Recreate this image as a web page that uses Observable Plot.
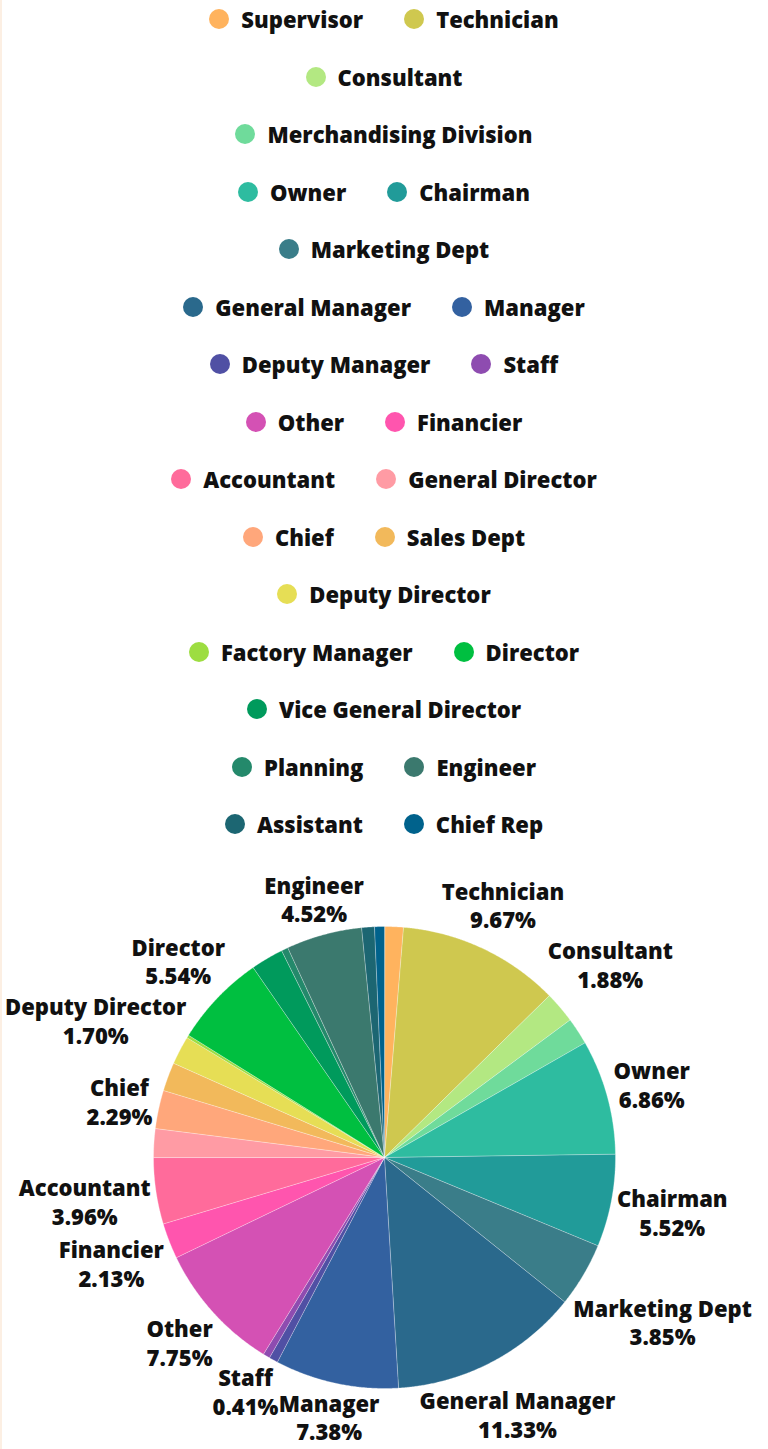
<!DOCTYPE html>
<html>
<head>
<meta charset="utf-8">
<script src="https://cdn.jsdelivr.net/npm/d3@7"></script>
<script src="https://cdn.jsdelivr.net/npm/@observablehq/plot@0.6"></script>
<style>
  html, body { margin: 0; padding: 0; background: #ffffff; }
  body { width: 768px; height: 1449px; overflow: hidden; position: relative; font-family: "Open Sans", sans-serif; }
  .edge { position: absolute; left: 0; top: 0; width: 2px; height: 1449px; background: #fcefe3; }
  #legend { position: absolute; left: 0; top: 0; width: 768px; height: 850px; }
  #legend .rows { position: absolute; left: 168px; top: -9.75px; width: 432px; display: flex; flex-wrap: wrap; justify-content: center; column-gap: 41px; }
  #legend .item { height: 57.5px; display: flex; align-items: center; white-space: nowrap; font-size: 22px; font-weight: 800; color: #111; }
  #legend .dot { width: 20px; height: 20px; border-radius: 50%; margin-right: 12px; flex: none; }
  #chart { position: absolute; left: 0; top: 850px; }
  #chart svg { display: block; }
</style>
</head>
<body>
<div class="edge"></div>
<div id="legend"><div class="rows"></div></div>
<div id="chart"></div>
<script>
// ---- data ----
const roles = ["Supervisor", "Technician", "Consultant", "Merchandising Division", "Owner", "Chairman",
  "Marketing Dept", "General Manager", "Manager", "Deputy Manager", "Staff", "Other", "Financier",
  "Accountant", "General Director", "Chief", "Sales Dept", "Deputy Director", "Factory Manager",
  "Director", "Vice General Director", "Planning", "Engineer", "Assistant", "Chief Rep"];
const shares = [1.12, 9.67, 1.88, 1.61, 6.86, 5.52,
  3.85, 11.33, 7.38, 0.53, 0.41, 7.75, 2.13,
  3.96, 1.71, 2.29, 1.71, 1.70, 0.17,
  5.54, 1.95, 0.40, 4.52, 0.76, 0.59];
const colors = ["#ffb35e", "#cfc84f", "#b3e882", "#6fdb9b", "#2ebca0", "#219b99",
  "#3a7d89", "#2a698c", "#3361a0", "#5050a4", "#8e4cb0", "#d451b4", "#ff55ae",
  "#ff6b9b", "#ff9ba4", "#ffa77b", "#f2b95b", "#e6de55", "#9ddd41",
  "#00bf40", "#009a5c", "#24896b", "#3b796e", "#1c6672", "#00628c"];
const labeledRoles = ["Technician", "Consultant", "Owner", "Chairman", "Marketing Dept", "General Manager",
  "Manager", "Staff", "Other", "Financier", "Accountant", "Chief", "Deputy Director", "Director", "Engineer"];

// ---- legend ----
const rowsEl = document.querySelector("#legend .rows");
roles.forEach((r, i) => {
  const it = document.createElement("div");
  it.className = "item";
  const dot = document.createElement("span");
  dot.className = "dot";
  dot.style.background = colors[i];
  it.appendChild(dot);
  it.appendChild(document.createTextNode(r));
  rowsEl.appendChild(it);
});

// ---- pie geometry ----
const W = 768, H = 599, R = 231, CX = 384, CY = 307;
const FS = 22, LH = 1.3;
const table = roles.map((role, i) => ({role, value: shares[i]}));
const arcs = d3.pie().sort(null).value(d => d.value)(table);

const pts = [];
arcs.forEach(a => {
  pts.push({role: a.data.role, x: 0, y: 0});
  const n = Math.max(2, Math.ceil((a.endAngle - a.startAngle) / 0.005));
  for (let k = 0; k <= n; k++) {
    const t = a.startAngle + (a.endAngle - a.startAngle) * k / n;
    pts.push({role: a.data.role, x: Math.sin(t), y: Math.cos(t)});
  }
});

// ---- label placement (outside, pushed clear of the pie, then de-overlapped vertically) ----
const ctx = document.createElement("canvas").getContext("2d");
ctx.font = `800 ${FS}px 'Open Sans'`;
const lh = FS * LH;
const placed = arcs.filter(a => labeledRoles.includes(a.data.role)).map(a => {
  const th = (a.startAngle + a.endAngle) / 2;
  const pct = a.data.value.toFixed(2) + "%";
  const w1 = ctx.measureText(a.data.role).width, w2 = ctx.measureText(pct).width;
  const w = Math.max(w1, w2);
  const h = 50;
  const s = Math.sin(th), c = Math.cos(th);
  let r = 250;
  for (; r < 420; r += 1) {
    const nx = Math.max(0, Math.abs(r * s) - w / 2);
    const ny = Math.max(0, Math.abs(r * c) - h / 2);
    if (Math.hypot(nx, ny) >= 234) break;
  }
  return {role: a.data.role, pct, w1, w2, px: r * s, py: -r * c};
});
function lines(L) {
  return [{cx: L.px, cy: L.py - lh / 2, w: L.w1}, {cx: L.px, cy: L.py + lh / 2, w: L.w2}];
}
const byY = placed.slice().sort((a, b) => a.py - b.py);
for (let i = 0; i < byY.length; i++) {
  for (let j = 0; j < i; j++) {
    const A = byY[j], B = byY[i];
    for (const la of lines(A)) for (const lb of lines(B)) {
      const hov = Math.min(la.cx + la.w / 2, lb.cx + lb.w / 2) - Math.max(la.cx - la.w / 2, lb.cx - lb.w / 2);
      const need = (la.cy + FS * 0.7) - (lb.cy - FS * 0.7);
      if (hov > 4 && need > 0 && lb.cy >= la.cy) B.py += need;
    }
  }
}
const labels = placed.map(L => ({role: L.role, text: L.role + "\n" + L.pct, x: L.px / R, y: -L.py / R}));

const plot = Plot.plot({
  width: W, height: H,
  marginTop: 0, marginRight: 0, marginBottom: 0, marginLeft: 0,
  x: {domain: [-CX / R, (W - CX) / R], axis: null},
  y: {domain: [-(H - CY) / R, CY / R], axis: null},
  color: {domain: roles, range: colors},
  style: {background: "transparent", fontFamily: "'Open Sans', sans-serif", overflow: "visible"},
  marks: [
    Plot.line(pts, {x: "x", y: "y", z: "role", fill: "role", stroke: "#ffffff", strokeWidth: 0.7, strokeOpacity: 0.45, curve: "linear-closed"}),
    Plot.text(labels, {x: "x", y: "y", text: "text", fontSize: FS, fontWeight: 800, fill: "#111", lineHeight: LH, textAnchor: "middle"})
  ]
});
document.getElementById("chart").appendChild(plot);
</script>
</body>
</html>
